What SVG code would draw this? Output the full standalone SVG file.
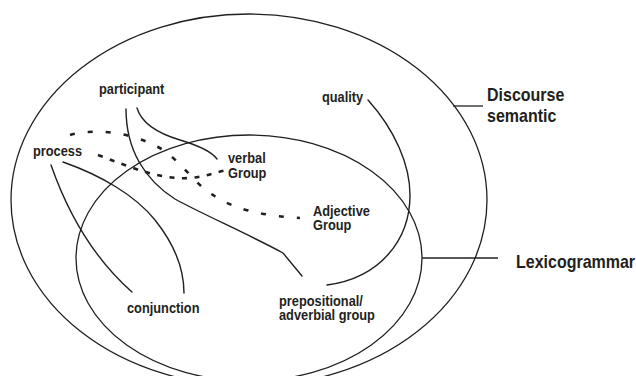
<svg xmlns="http://www.w3.org/2000/svg" width="636" height="376" viewBox="0 0 636 376">
<style>
.bg{fill:#ffffff}
.ell{fill:none;stroke:#231f20;stroke-width:1.3}
.line{fill:none;stroke:#231f20;stroke-width:1.4;stroke-linecap:round}
.dash1{fill:none;stroke:#231f20;stroke-width:2.6;stroke-dasharray:5 13}
.dash2{fill:none;stroke:#231f20;stroke-width:2.6;stroke-dasharray:5 7.5}
.lbl{font-family:"Liberation Sans",Arial,sans-serif;font-weight:bold;font-size:12.8px;fill:#231f20}
.big{font-family:"Liberation Sans",Arial,sans-serif;font-weight:bold;font-size:16px;fill:#231f20}
</style>
<rect class="bg" x="0" y="0" width="636" height="376"/>
<g id="discourse-semantic">
<ellipse class="ell" cx="249" cy="200" rx="238" ry="186"/>
<line class="ell" x1="453" y1="106" x2="483" y2="106"/>
<text class="big" transform="matrix(1 0 0 1.2 487 101)">Discourse</text>
<text class="big" transform="matrix(1 0 0 1.2 487 122)">semantic</text>
</g>
<g id="lexicogrammar">
<ellipse class="ell" cx="249" cy="258" rx="173" ry="123"/>
<line class="ell" x1="422" y1="258" x2="498" y2="258"/>
<text class="big" transform="matrix(1 0 0 1.2 516 268)">Lexicogrammar</text>
</g>
<g id="connectors">
<path class="line" d="M126,109 C126,150 145,180 175,199 C200,213 250,235 283,253 L302,276"/>
<path class="line" d="M137,108 C142,125 160,134 180,140 C200,146 212,152 217,159"/>
<path class="line" d="M63,162 C100,175 135,195 155,220 C175,245 184,270 184,293"/>
<path class="line" d="M51,165 C65,205 90,255 132,292"/>
<path class="line" d="M368,100 C395,130 410,165 410,195 C410,240 380,278 327,285"/>
<path class="dash1" d="M70,135 C95,128 130,132 158,147 C180,159 195,185 213,195 C235,210 265,216 300,218"/>
<path class="dash2" d="M98,155 C130,167 160,180 190,178 C205,177 215,172 228,170"/>
</g>
<g id="participant"><text class="lbl" transform="matrix(1 0 0 1.15 99 94)">participant</text></g>
<g id="process"><text class="lbl" transform="matrix(1 0 0 1.15 33 156)">process</text></g>
<g id="verbal-group">
<text class="lbl" transform="matrix(1 0 0 1.15 228 163)">verbal</text>
<text class="lbl" transform="matrix(1 0 0 1.15 228 178)">Group</text>
</g>
<g id="quality"><text class="lbl" transform="matrix(1 0 0 1.15 322 102)">quality</text></g>
<g id="adjective-group">
<text class="lbl" transform="matrix(1 0 0 1.15 313 216)">Adjective</text>
<text class="lbl" transform="matrix(1 0 0 1.15 313 230)">Group</text>
</g>
<g id="conjunction"><text class="lbl" transform="matrix(1 0 0 1.15 127 313)">conjunction</text></g>
<g id="prepositional-group">
<text class="lbl" transform="matrix(1 0 0 1.15 279 306)">prepositional/</text>
<text class="lbl" transform="matrix(1 0 0 1.15 279 320)">adverbial group</text>
</g>
</svg>
